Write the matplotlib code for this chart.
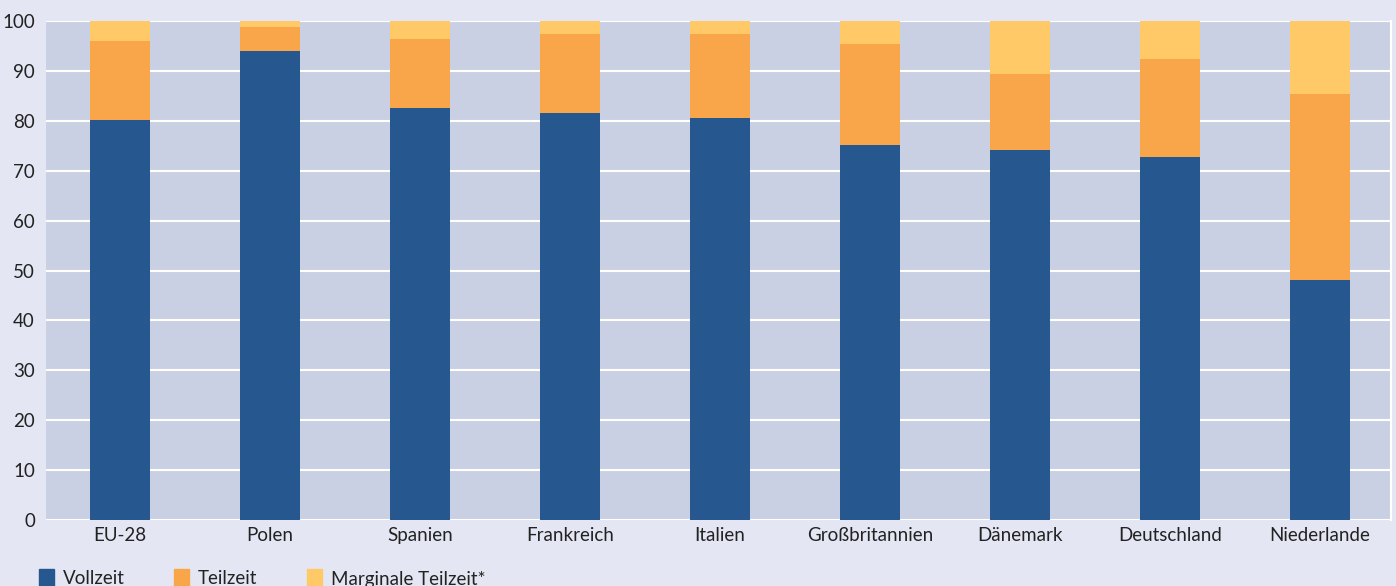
import matplotlib
matplotlib.use("Agg")
import matplotlib.pyplot as plt
from matplotlib.patches import Rectangle
import numpy as np

laender = ["EU-28", "Polen", "Spanien", "Frankreich", "Italien",
           "Großbritannien", "Dänemark", "Deutschland", "Niederlande"]
vollzeit = [80.1, 93.9, 82.6, 81.6, 80.6, 75.2, 74.1, 72.7, 48.0]
teilzeit = [15.8, 4.9, 13.8, 15.8, 16.8, 20.2, 15.3, 19.7, 37.4]
marginal = [4.1, 1.2, 3.6, 2.6, 2.6, 4.6, 10.6, 7.6, 14.6]
serien = ["Vollzeit", "Teilzeit", "Marginale Teilzeit*"]

c_blau = "#27578f"
c_orange = "#f9a54a"
c_gelb = "#fec966"
farben = [c_blau, c_orange, c_gelb]

plt.rcParams["font.family"] = ["Lato", "DejaVu Sans"]

fig = plt.figure(figsize=(13.96, 5.86), dpi=100, facecolor="#e4e7f3")
ax = fig.add_axes([46/1396, 66/586, 1345/1396, 499/586])
ax.set_facecolor("#cad0e3")

x = np.arange(len(laender))
v = np.array(vollzeit)
t = np.array(teilzeit)
m = np.array(marginal)
ax.bar(x, v, 0.4, color=c_blau, zorder=3)
ax.bar(x, t, 0.4, bottom=v, color=c_orange, zorder=3)
ax.bar(x, m, 0.4, bottom=v + t, color=c_gelb, zorder=3)

# Balkenabstand 150 px, Mitte erster Balken bei 120 px
ax.set_xlim((46 - 120)/150, (1391 - 120)/150)
ax.set_ylim(0, 100)
ax.set_yticks(range(0, 101, 10))
ax.set_xticks(x)
ax.set_xticklabels(laender)
ax.tick_params(length=0, labelsize=13.5, colors="#222222")
ax.tick_params(axis="x", pad=5)
ax.tick_params(axis="y", pad=8)
ax.yaxis.grid(True, color="white", lw=1.5, zorder=1)
for s in ["top", "left", "bottom"]:
    ax.spines[s].set_visible(False)
ax.spines["right"].set_color("white")
ax.spines["right"].set_linewidth(1.5)

# Legende unten
pos = [39, 174, 307]
for px, name, col in zip(pos, serien, farben):
    fig.patches.append(Rectangle((px/1396, 0), 15/1396, 17/586,
                                 transform=fig.transFigure, color=col))
    fig.text((px + 24)/1396, 7/586, name, fontsize=13.5, va="center",
             ha="left", color="#222222")

fig.savefig("out.png", dpi=100, facecolor=fig.get_facecolor())
